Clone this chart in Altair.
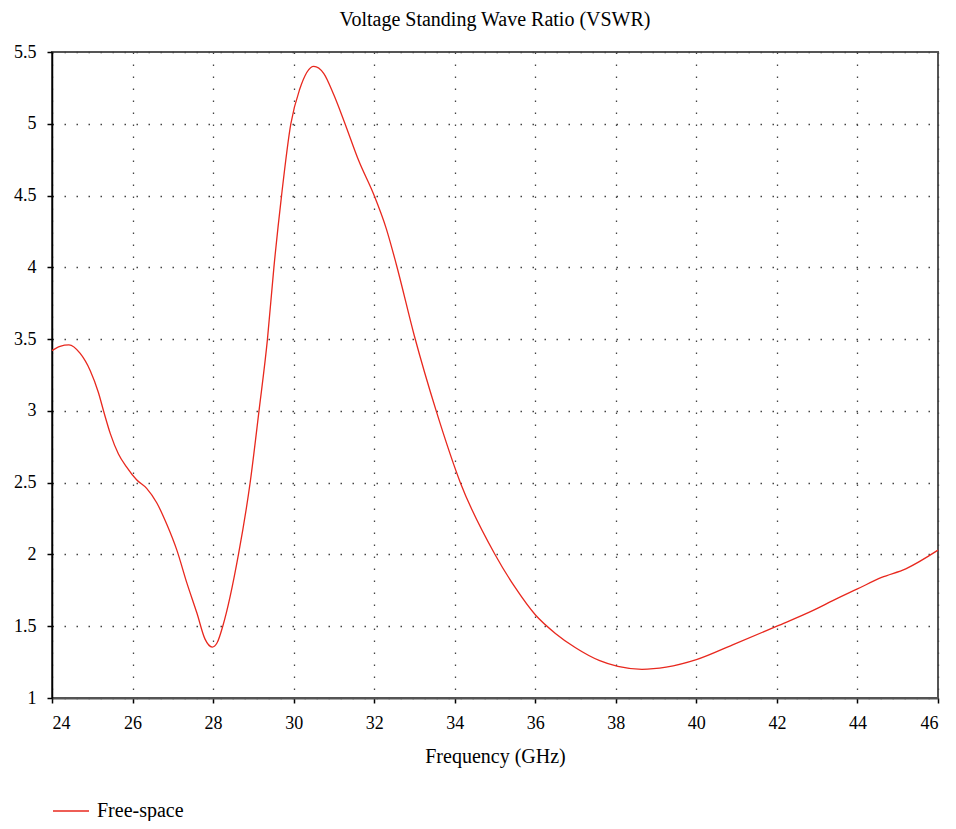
import altair as alt
import pandas as pd

freq = [24.0, 24.2, 24.42, 24.7, 24.95, 25.15, 25.3, 25.45, 25.65, 25.85,
        26.1, 26.35, 26.6, 26.85, 27.1, 27.35, 27.6, 27.8, 27.98, 28.1,
        28.24, 28.63, 28.92, 29.14, 29.35, 29.51, 29.70, 29.93, 30.15,
        30.5, 30.75, 31.0, 31.25, 31.62, 32.0, 32.3, 32.55, 33.0, 33.54, 34.14,
        35.0, 35.5, 36.0, 36.5, 37.0, 37.6, 38.05, 38.65, 39.25, 40.0, 40.9,
        42.0, 42.9, 43.4, 44.0, 44.6, 45.2, 46.0]
vswr = [3.42, 3.45, 3.46, 3.40, 3.28, 3.13, 2.98, 2.84, 2.70, 2.61,
        2.52, 2.46, 2.36, 2.21, 2.03, 1.80, 1.59, 1.41, 1.355, 1.385,
        1.5, 2.0, 2.5, 3.0, 3.5, 4.0, 4.5, 5.0, 5.24,
        5.40, 5.35, 5.20, 5.02, 4.74, 4.50, 4.27, 4.02, 3.52, 3.0, 2.5,
        2.0, 1.77, 1.58, 1.45, 1.35, 1.26, 1.22, 1.20, 1.215, 1.267, 1.37,
        1.50, 1.61, 1.68, 1.76, 1.84, 1.90, 2.03]
series_name = "Free-space"
x_ticks = [24, 26, 28, 30, 32, 34, 36, 38, 40, 42, 44, 46]
y_ticks = [1, 1.5, 2, 2.5, 3, 3.5, 4, 4.5, 5, 5.5]

df = pd.DataFrame({"Frequency": freq, "VSWR": vswr,
                   "Series": [series_name] * len(freq)})

FONT = "Liberation Serif"
RED = "#e8281e"

common_axis = dict(
    labelFont=FONT, labelFontSize=18, labelColor="black",
    titleFont=FONT, titleFontSize=20, titleFontWeight="normal", titleColor="black",
    tickColor="black", tickSize=5, tickWidth=1.5,
    gridColor="#444", gridDash=[1.5, 10.5], gridWidth=1.3, grid=True,
)

chart = alt.Chart(df).mark_line(strokeWidth=1.3, interpolate="monotone").encode(
    x=alt.X("Frequency:Q",
            scale=alt.Scale(domain=[24, 46], nice=False, zero=False),
            axis=alt.Axis(values=x_ticks, title="Frequency (GHz)",
                          labelPadding=11, titlePadding=14,
                          domainColor="#555", domainWidth=2, **common_axis)),
    y=alt.Y("VSWR:Q",
            scale=alt.Scale(domain=[1, 5.5], nice=False, zero=False),
            axis=alt.Axis(values=y_ticks, format="~g", title=None,
                          labelPadding=11,
                          domainColor="black", domainWidth=1.5, **common_axis)),
    color=alt.Color("Series:N", scale=alt.Scale(range=[RED]),
                    legend=alt.Legend(title=None, orient="none",
                                      legendX=0, legendY=740,
                                      symbolType="stroke", symbolSize=1296,
                                      symbolStrokeWidth=1.3,
                                      labelFont=FONT, labelFontSize=20,
                                      labelColor="black", labelOffset=7)),
).properties(
    width=886, height=646,
    title=alt.TitleParams("Voltage Standing Wave Ratio (VSWR)", font=FONT,
                          fontSize=20, fontWeight="normal", color="black",
                          anchor="middle", offset=13),
    autosize=alt.AutoSizeParams(type="none"),
    padding={"left": 44, "top": 44, "right": 10, "bottom": 123},
).configure_view(stroke="#555", strokeWidth=2)

chart.save("out.html", embed_options={"renderer": "svg", "actions": False})
